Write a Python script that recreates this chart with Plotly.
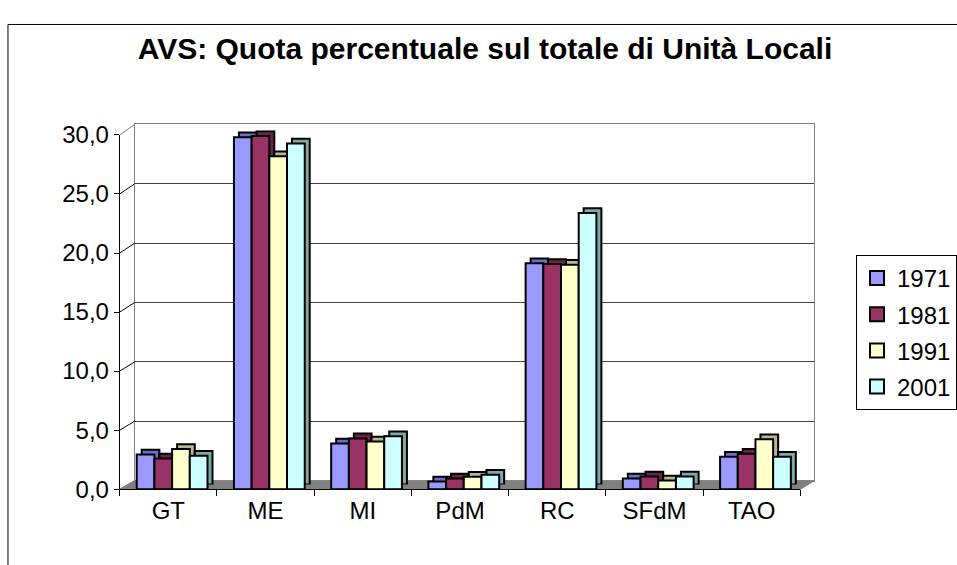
import plotly.graph_objects as go

categories = ["GT", "ME", "MI", "PdM", "RC", "SFdM", "TAO"]
years = ["1971", "1981", "1991", "2001"]
v1971 = [2.93, 29.8, 3.87, 0.65, 19.14, 0.91, 2.74]
v1981 = [2.60, 29.9, 4.30, 0.91, 19.06, 1.07, 3.00]
v1991 = [3.41, 28.2, 4.03, 1.05, 19.00, 0.73, 4.22]
v2001 = [2.82, 29.27, 4.49, 1.21, 23.39, 1.07, 2.74]
series = [v1971, v1981, v1991, v2001]
y_ticks = [0, 5, 10, 15, 20, 25, 30]
y_ticktext = ["0,0", "5,0", "10,0", "15,0", "20,0", "25,0", "30,0"]

front_colors = ["#9999FF", "#993366", "#FFFFCC", "#CCFFFF"]
side_colors = ["#6E6EBE", "#6A2448", "#B8B890", "#7FA8A8"]

W, H = 957, 565
def px(x):
    return x / W
def py(y):
    return 1 - y / H

# geometry (pixels)
FX0, FX1, FY0, FY30 = 120, 802, 499, 127      # front plane
BX0, BX1, BY0, BY30 = 135, 816, 490, 116      # back wall
SDX, SDY = 5, -5                              # bar depth offset

FONT = "Liberation Sans, Arial, sans-serif"
fig = go.Figure()

bw = 0.182
start = -0.5 + 17 / 97.4

# shadow (depth) bars
for i, (yr, vals) in enumerate(zip(years, series)):
    fig.add_trace(go.Bar(
        x=categories, y=vals, xaxis="x2", yaxis="y2",
        width=bw, offset=start + i * bw,
        marker=dict(color=side_colors[i], line=dict(color="black", width=2)),
        showlegend=False, hoverinfo="skip"))

# front bars
for i, (yr, vals) in enumerate(zip(years, series)):
    fig.add_trace(go.Bar(
        x=categories, y=vals, xaxis="x3", yaxis="y3", name=yr,
        width=bw, offset=start + i * bw, legendgroup=yr, showlegend=False,
        marker=dict(color=front_colors[i], line=dict(color="black", width=2))))

# legend entries (square swatches)
for i, yr in enumerate(years):
    fig.add_trace(go.Scatter(
        x=[None], y=[None], xaxis="x3", yaxis="y3", mode="markers", name=yr,
        legendgroup=yr,
        marker=dict(symbol="square", size=14, color=front_colors[i],
                    line=dict(color="black", width=2))))

# dummy trace for back wall subplot
fig.add_trace(go.Scatter(x=[0], y=[0], xaxis="x", yaxis="y", mode="markers",
                         marker=dict(opacity=0), showlegend=False, hoverinfo="skip"))

shapes = []
# floor
shapes.append(dict(type="path", xref="paper", yref="paper", layer="below",
    path=f"M{px(FX0)},{py(FY0)} L{px(FX1)},{py(FY0)} L{px(BX1)},{py(BY0)} L{px(BX0)},{py(BY0)} Z",
    fillcolor="#808080", line=dict(color="#808080", width=1)))
# left wall diagonals
for v in y_ticks:
    yf = FY0 + (FY30 - FY0) * v / 30
    yb = BY0 + (BY30 - BY0) * v / 30
    col = "#808080" if v in (0, 30) else "black"
    shapes.append(dict(type="line", xref="paper", yref="paper",
        x0=px(FX0), y0=py(yf), x1=px(BX0), y1=py(yb), line=dict(color=col, width=1)))
# right floor diagonal
shapes.append(dict(type="line", xref="paper", yref="paper",
    x0=px(FX1), y0=py(FY0), x1=px(BX1), y1=py(BY0), line=dict(color="#808080", width=1)))
# chart border
shapes.append(dict(type="rect", xref="paper", yref="paper",
    x0=px(8), y0=py(11), x1=px(975), y1=py(585), line=dict(color="black", width=1)))

fig.update_layout(
    width=W, height=H,
    margin=dict(l=0, r=0, t=0, b=0),
    paper_bgcolor="white", plot_bgcolor="rgba(0,0,0,0)",
    barmode="overlay",
    font=dict(family=FONT, size=24, color="black"),
    title=dict(text="<b>AVS: Quota percentuale sul totale di Unità Locali</b>",
               x=485 / W, xanchor="center", y=py(48), yanchor="middle",
               font=dict(family=FONT, size=30, color="black")),
    shapes=shapes,
    # back wall
    xaxis=dict(domain=[px(BX0), px(BX1)], range=[0, 1], showgrid=False, zeroline=False,
               showticklabels=False, ticks="", showline=True, mirror=True,
               linecolor="#808080", linewidth=1, fixedrange=True),
    yaxis=dict(domain=[py(BY0), py(BY30)], range=[0, 30], tickvals=y_ticks,
               showgrid=True, gridcolor="#404040", gridwidth=1, zeroline=False,
               showticklabels=False, ticks="", showline=True, mirror=True,
               linecolor="#808080", linewidth=1, fixedrange=True),
    # shadow bars
    xaxis2=dict(domain=[px(FX0 + SDX), px(FX1 + SDX)], anchor="y2", type="category",
                range=[-0.5, 6.5], visible=False, fixedrange=True),
    yaxis2=dict(domain=[py(FY0 + SDY), py(FY30 + SDY)], anchor="x2", range=[0, 30],
                visible=False, fixedrange=True),
    # front bars
    xaxis3=dict(domain=[px(FX0), px(FX1)], anchor="y3", type="category",
                categoryorder="array", categoryarray=categories,
                range=[-0.5, 6.5], showgrid=False, zeroline=False,
                showline=True, linecolor="black", linewidth=1,
                ticks="outside", tickson="boundaries", ticklen=6, tickcolor="black",
                tickfont=dict(family=FONT, size=24, color="black"), fixedrange=True),
    yaxis3=dict(domain=[py(FY0), py(FY30)], anchor="x3", range=[0, 30],
                tickvals=y_ticks, ticktext=y_ticktext, showgrid=False, zeroline=False,
                showline=True, linecolor="black", linewidth=1,
                ticks="outside", ticklen=5, tickcolor="black",
                tickfont=dict(family=FONT, size=24, color="black"), fixedrange=True),
    legend=dict(x=px(858), xanchor="left", y=py(253), yanchor="top",
                bgcolor="white", bordercolor="black", borderwidth=1,
                font=dict(family=FONT, size=24, color="black"),
                traceorder="grouped", tracegroupgap=2, itemwidth=30),
)

fig.write_html("out.html", config={"displayModeBar": False},
               post_script="document.body.style.margin='0px';document.body.style.overflow='hidden';")
